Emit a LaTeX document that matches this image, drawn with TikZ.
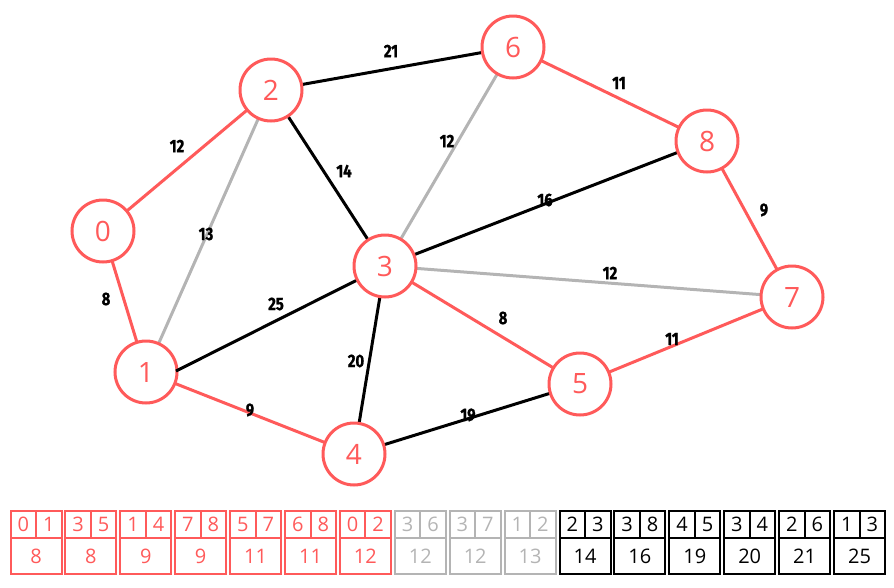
\documentclass[tikz,border=0pt]{standalone}
\usepackage{fontspec}
\setmainfont{Open Sans}
\newfontfamily\lblfont[FakeStretch=0.82,FakeBold=1.2]{Fira Sans}
\definecolor{cred}{HTML}{FF5A5A}
\definecolor{cgrey}{HTML}{B4B4B4}
\definecolor{cblack}{HTML}{000000}
\begin{document}
\begin{tikzpicture}[x=1pt,y=-1pt,
  vert/.style={circle,draw=cred,line width=3pt,fill=white,minimum size=62pt,inner sep=0pt,text=cred,font=\fontsize{28}{30}\selectfont},
  ered/.style={draw=cred,line width=3pt},
  egrey/.style={draw=cgrey,line width=3pt},
  eblack/.style={draw=black,line width=3pt},
  wlbl/.style={font=\lblfont\bfseries\fontsize{18}{19}\selectfont,inner sep=0pt},
  cellbox/.style={draw=#1,text=#1,line width=2pt,minimum width=51pt,inner sep=0pt,font=\fontsize{20}{21}\selectfont},
]
\useasboundingbox (0,0) rectangle (894,587);
% edges first (behind nodes)
\coordinate (p0) at (103,231);
\coordinate (p1) at (146,372);
\coordinate (p2) at (271,90);
\coordinate (p3) at (385,266);
\coordinate (p4) at (354,454);
\coordinate (p5) at (580,384);
\coordinate (p6) at (513,47);
\coordinate (p7) at (792,297);
\coordinate (p8) at (707,141);
\coordinate (q1) at (176,371);
\draw[egrey] (p2) -- (p1);
\draw[egrey] (p6) -- (p3);
\draw[egrey] (p3) -- (p7);
\draw[eblack] (p2) -- (p6);
\draw[eblack] (p2) -- (p3);
\draw[eblack] (p3) -- (p8);
\draw[eblack] (p3) -- (p4);
\draw[eblack] (p4) -- (p5);
\draw[ered] (p0) -- (p2);
\draw[ered] (p0) -- (p1);
\draw[ered] (p1) -- (p4);
\draw[ered] (p3) -- (p5);
\draw[ered] (p5) -- (p7);
\draw[ered] (p7) -- (p8);
\draw[ered] (p6) -- (p8);
% vertices
\node[vert] (n0) at (p0) {0};
\node[vert] (n1) at (p1) {1};
\node[vert] (n2) at (p2) {2};
\node[vert] (n3) at (p3) {3};
\node[vert] (n4) at (p4) {4};
\node[vert] (n5) at (p5) {5};
\node[vert] (n6) at (p6) {6};
\node[vert] (n7) at (p7) {7};
\node[vert] (n8) at (p8) {8};
\draw[eblack] (q1) -- (n3);
% weights
\node[wlbl] (w02) at (177,146) {12};
\node[wlbl] (w01) at (106,299) {8};
\node[wlbl] (w21) at (206,234) {13};
\node[wlbl] (w26) at (391,51) {21};
\node[wlbl] (w23) at (344,171) {14};
\node[wlbl] (w63) at (447,141) {12};
\node[wlbl] (w68) at (619,83) {11};
\node[wlbl] (w38) at (545,200) {16};
\node[wlbl] (w87) at (764,210) {9};
\node[wlbl] (w37) at (610,273) {12};
\node[wlbl] (w13) at (276,304) {25};
\node[wlbl] (w35) at (503,318) {8};
\node[wlbl] (w75) at (672,339) {11};
\node[wlbl] (w34) at (356,361) {20};
\node[wlbl] (w14) at (250,410) {9};
\node[wlbl] (w45) at (468,415) {19};
% table
\foreach \a/\b/\w/\c [count=\i from 0] in {0/1/8/cred,3/5/8/cred,1/4/9/cred,7/8/9/cred,5/7/11/cred,6/8/11/cred,0/2/12/cred,3/6/12/cgrey,3/7/12/cgrey,1/2/13/cgrey,2/3/14/cblack,3/8/16/cblack,4/5/19/cblack,3/4/20/cblack,2/6/21/cblack,1/3/25/cblack}{
  \pgfmathsetmacro\xl{9.5+54.9*\i}
  \node[cellbox=\c,minimum width=25.5pt,minimum height=27pt,anchor=north west] (ta\i) at (\xl,510) {\a};
  \node[cellbox=\c,minimum width=25.5pt,minimum height=27pt,anchor=north west] (tb\i) at (\xl+25.5,510) {\b};
  \node[cellbox=\c,minimum width=51pt,minimum height=36pt,anchor=north west] (tw\i) at (\xl,537) {\w};
}
\end{tikzpicture}
\end{document}
